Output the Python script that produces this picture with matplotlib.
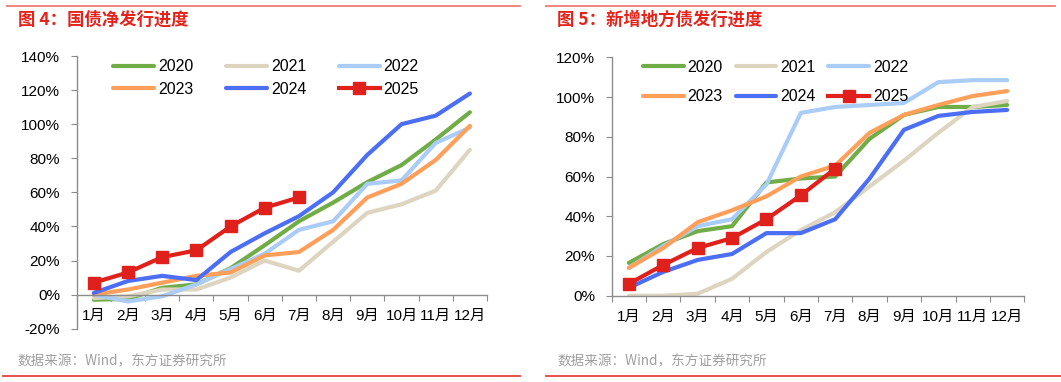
import numpy as np
import matplotlib
matplotlib.use("Agg")
import matplotlib.pyplot as plt

FONTS = ['Liberation Sans', 'Noto Sans CJK SC', 'DejaVu Sans']
CJK = ['Noto Sans CJK SC', 'DejaVu Sans']
plt.rcParams['font.family'] = FONTS

months = ['1月', '2月', '3月', '4月', '5月', '6月', '7月', '8月', '9月', '10月', '11月', '12月']
years = ['2020', '2021', '2022', '2023', '2024', '2025']
colors = ['#70ad47', '#ddd5c0', '#a9cdf7', '#ff9f5a', '#4c6ef5', '#e0201b']

# 图4 国债净发行进度 (%)
gz_2020 = [-3, -2.5, 4, 6, 15.5, 29, 43, 54, 66, 76, 91, 107]
gz_2021 = [-2, -1, 3, 3, 10, 20, 14, 31, 48, 53, 61, 85]
gz_2022 = [0, -4, -1, 6, 15, 24, 38, 43, 65, 67, 89, 98]
gz_2023 = [0, 3, 7, 11, 13, 23, 25, 38, 57, 65, 79, 99]
gz_2024 = [1, 8, 11, 8.5, 25, 36, 46, 60, 82, 100, 105, 118]
gz_2025 = [7, 13, 22, 26, 40, 51, 57]

# 图5 新增地方债发行进度 (%)
df_2020 = [16.5, 26, 32.5, 35, 57, 59, 60, 79, 91, 95, 95, 96]
df_2021 = [0, 0, 1, 8.5, 22, 33, 42, 55, 68, 82, 95, 98]
df_2022 = [14, 25, 35, 38.5, 56, 92, 95, 96, 97, 107.5, 108.5, 108.5]
df_2023 = [14, 24, 37, 43, 50, 60, 65.5, 82, 91, 96, 100.5, 103]
df_2024 = [4, 12, 18, 21, 31.5, 31.5, 38.5, 59, 83.5, 90.5, 92.5, 93.5]
df_2025 = [6, 15.5, 24, 29, 38.5, 50.5, 64]

W, H = 1061, 382
fig = plt.figure(figsize=(W / 100, H / 100), dpi=100)


def px_axes(x0, y0, x1, y1):
    return fig.add_axes([x0 / W, 1 - y1 / H, (x1 - x0) / W, (y1 - y0) / H])


def draw_panel(ax, series, ylim, yticks, leg_x, leg_y, leg_space, leg_col):
    x = np.arange(len(months))
    handles = []
    for name, vals, c in zip(years, series, colors):
        if name == '2025':
            h, = ax.plot(x[:len(vals)], vals, color=c, lw=3, marker='s', ms=8,
                         label=name, zorder=5)
        else:
            h, = ax.plot(x[:len(vals)], vals, color=c, lw=3, label=name,
                         solid_capstyle='round', solid_joinstyle='round')
        handles.append(h)
    ax.set_xlim(-0.5, 11.5)
    ax.set_ylim(*ylim)
    ax.set_yticks(yticks)
    ax.set_yticklabels([f'{v}%' for v in yticks])
    ax.set_xticks(np.arange(-0.5, 12, 1))
    ax.set_xticklabels([])
    ax.set_xticks(x, minor=True)
    ax.set_xticklabels(months, minor=True)
    for s in ['top', 'right']:
        ax.spines[s].set_visible(False)
    ax.spines['bottom'].set_position(('data', 0))
    for s in ['left', 'bottom']:
        ax.spines[s].set_color('#8c8c8c')
        ax.spines[s].set_linewidth(1)
    ax.tick_params(axis='y', length=4, color='#8c8c8c', labelsize=11, pad=8)
    ax.tick_params(axis='x', which='major', length=4, color='#8c8c8c')
    ax.tick_params(axis='x', which='minor', length=0, labelsize=11, pad=10.5)
    # legend filled row by row: 2020 2021 2022 / 2023 2024 2025
    order = [0, 3, 1, 4, 2, 5]
    ax.legend([handles[i] for i in order], [years[i] for i in order],
              ncol=3, frameon=False, loc='upper left',
              bbox_to_anchor=(leg_x, leg_y), borderpad=0, fontsize=11.5,
              handlelength=2.55, handletextpad=0.25, columnspacing=leg_col,
              labelspacing=leg_space)


ax1 = px_axes(76.7, 56, 487, 328.7)
draw_panel(ax1, [gz_2020, gz_2021, gz_2022, gz_2023, gz_2024, gz_2025],
           (-20, 140), list(range(-20, 141, 20)), 0.07, 1.017, 0.45, 2.05)

ax2 = px_axes(611.7, 57.3, 1024.3, 295.7)
draw_panel(ax2, [df_2020, df_2021, df_2022, df_2023, df_2024, df_2025],
           (0, 120), list(range(0, 121, 20)), 0.056, 1.022, 0.9, 0.8)

# titles, rules and sources
fig.text(18 / W, 1 - 20 / H, '图 4：国债净发行进度', color='#e5231b',
         fontsize=12.5, fontweight='bold', family=CJK, va='center')
fig.text(557 / W, 1 - 20 / H, '图 5：新增地方债发行进度', color='#e5231b',
         fontsize=12.5, fontweight='bold', family=CJK, va='center')
fig.text(17 / W, 1 - 361 / H, '数据来源：Wind，东方证券研究所', color='#a0a0a0',
         fontsize=9.8, family=CJK, va='center')
fig.text(557 / W, 1 - 361 / H, '数据来源：Wind，东方证券研究所', color='#a0a0a0',
         fontsize=9.8, family=CJK, va='center')

for x0, x1 in [(7, 520), (546, 1055)]:
    fig.add_artist(plt.Line2D([x0 / W, x1 / W], [1 - 5.5 / H] * 2,
                              color='#ef7b76', lw=1.3))
for x0, x1 in [(3, 520), (546, 1061)]:
    fig.add_artist(plt.Line2D([x0 / W, x1 / W], [1 - 375.5 / H] * 2,
                              color='#e8514a', lw=1.4))

fig.savefig('out.png', dpi=100)
